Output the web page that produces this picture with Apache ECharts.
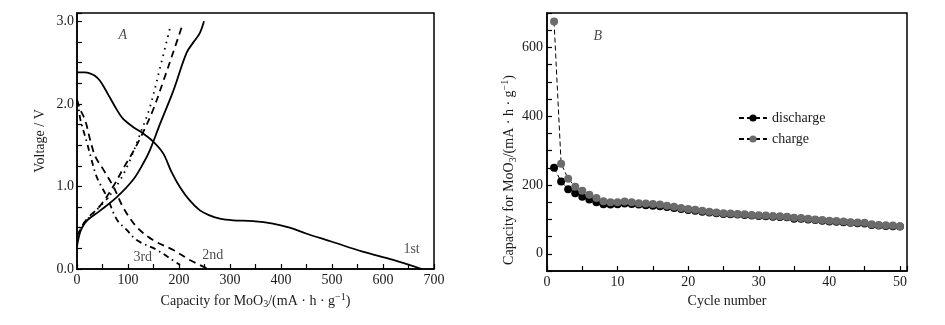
<!DOCTYPE html>
<html>
<head>
<meta charset="utf-8">
<script src="https://cdn.jsdelivr.net/npm/echarts@6/dist/echarts.min.js"></script>
<style>
html,body{margin:0;padding:0;background:#fff;}
#main{width:945px;height:325px;}
</style>
</head>
<body>
<div id="main"></div>
<script>
// ---- Panel A: voltage profiles [capacity mA·h/g, voltage V] ----
var discharge1 = [[0,2.38],[15,2.38],[25,2.37],[35,2.34],[45,2.28],[55,2.18],[65,2.07],[78,1.93],[90,1.82],[110,1.72],[130,1.64],[150,1.54],[169,1.40],[185,1.18],[202,0.99],[221,0.83],[241,0.71],[260,0.65],[280,0.61],[306,0.59],[345,0.58],[384,0.55],[417,0.50],[449,0.43],[500,0.33],[560,0.21],[620,0.11],[676,0.0]];
var charge1 = [[0,0.27],[4,0.40],[10,0.50],[20,0.59],[46,0.71],[78,0.87],[110,1.08],[130,1.28],[143,1.44],[163,1.76],[189,2.16],[215,2.62],[230,2.76],[241,2.86],[249,3.0]];
var discharge2 = [[0,2.05],[5,1.95],[16,1.80],[26,1.56],[36,1.36],[52,1.20],[72,0.99],[91,0.74],[117,0.51],[149,0.35],[189,0.23],[221,0.11],[254,0.01]];
var charge2 = [[0,0.40],[10,0.52],[20,0.61],[46,0.77],[71,1.00],[91,1.22],[110,1.42],[130,1.66],[150,1.94],[169,2.27],[189,2.63],[207,2.96]];
var discharge3 = [[0,2.05],[3,1.95],[7,1.80],[20,1.52],[26,1.38],[39,1.11],[59,0.87],[78,0.60],[98,0.47],[117,0.35],[157,0.23],[182,0.13],[202,0.05]];
var charge3 = [[0,0.42],[7,0.51],[33,0.68],[59,0.85],[85,1.08],[104,1.32],[124,1.64],[143,1.96],[163,2.44],[182,2.91]];
var cycleLabelsA = [['1st',656,0.24],['2nd',266,0.17],['3rd',129,0.145]];
var panelLabelA = ['A',90,2.83];

// ---- Panel B: cycling capacity ----
var cycles = [];
for (var i = 1; i <= 50; i++) cycles.push(i);
var chargeCap = [675,262,218,195,183,172,162,153,150,150,152,150,147,146,145,143,140,137,133,130,128,125,122,120,118,117,116,115,113,112,111,110,109,108,105,104,102,100,98,96,95,94,92,91,90,86,84,83,82,80];
var dischargeCap = [250,210,188,176,166,158,150,144,143,144,146,145,143,141,140,138,136,133,130,127,125,122,120,118,116,115,114,113,111,110,109,108,107,106,102,102,100,98,96,94,93,92,90,89,88,84,82,81,80,79];
var panelLabelB = ['B',7.2,633];

var FONT = 'Liberation Serif';
var TXT = '#1a1a1a';

function pairs(xs, ys){ return xs.map(function(x,k){ return [x, ys[k]]; }); }

var richName = {
  sub: {fontFamily: FONT, fontSize: 10, color: TXT, padding: [7,0,0,0]},
  sup: {fontFamily: FONT, fontSize: 10, color: TXT, padding: [0,0,8,0]}
};
var capName = 'Capacity for MoO{sub|3}/(mA · h · g{sup|−1})';

function curve(name, data, type, w){
  return {
    name: name, type: 'line', xAxisIndex: 0, yAxisIndex: 0,
    data: data, smooth: 0.35, symbol: 'none',
    lineStyle: {color: '#000', width: w || 1.8, type: type},
    silent: true
  };
}

var chart = echarts.init(document.getElementById('main'), null, {renderer: 'canvas'});
var option = {
  animation: false,
  backgroundColor: '#fff',
  grid: [
    {left: 77, top: 13, width: 357, height: 256, show: true, borderColor: '#000', borderWidth: 1.5, backgroundColor: 'transparent'},
    {left: 547, top: 13, width: 360, height: 258, show: true, borderColor: '#000', borderWidth: 1.5, backgroundColor: 'transparent'}
  ],
  xAxis: [
    {
      gridIndex: 0, type: 'value', min: 0, max: 700, interval: 50,
      name: capName, nameLocation: 'middle', nameGap: 16,
      nameTextStyle: {fontFamily: FONT, fontSize: 14, color: TXT, rich: richName},
      axisLine: {show: true, onZero: false, lineStyle: {color: '#000', width: 1.5}},
      axisTick: {show: true, inside: true, length: 5, lineStyle: {color: '#000', width: 1.2}},
      axisLabel: {fontFamily: FONT, fontSize: 14, color: TXT, margin: 4,
        formatter: function(v){ return (v % 100 === 0) ? String(v) : ''; }},
      splitLine: {show: false}
    },
    {
      gridIndex: 1, type: 'value', min: 0, max: 51, interval: 5,
      name: 'Cycle number', nameLocation: 'middle', nameGap: 20,
      nameTextStyle: {fontFamily: FONT, fontSize: 14, color: TXT},
      axisLine: {show: true, onZero: false, lineStyle: {color: '#000', width: 1.5}},
      axisTick: {show: true, inside: true, length: 5, lineStyle: {color: '#000', width: 1.2}},
      axisLabel: {fontFamily: FONT, fontSize: 14, color: TXT, margin: 4,
        formatter: function(v){ return (v % 10 === 0 && v <= 50) ? String(v) : ''; }},
      splitLine: {show: false}
    }
  ],
  yAxis: [
    {
      gridIndex: 0, type: 'value', min: 0, max: 3.1, interval: 0.25,
      name: 'Voltage / V', nameLocation: 'middle', nameGap: 30,
      nameTextStyle: {fontFamily: FONT, fontSize: 14, color: TXT},
      axisLine: {show: true, onZero: false, lineStyle: {color: '#000', width: 1.5}},
      axisTick: {show: true, inside: true, length: 5, lineStyle: {color: '#000', width: 1.2}},
      axisLabel: {fontFamily: FONT, fontSize: 14, color: TXT, margin: 3,
        formatter: function(v){ return (Math.abs(v - Math.round(v)) < 1e-6 && v <= 3) ? v.toFixed(1) : ''; }},
      splitLine: {show: false}
    },
    {
      gridIndex: 1, type: 'value', min: -50, max: 700, interval: 50,
      name: capName, nameLocation: 'middle', nameGap: 28,
      nameTextStyle: {fontFamily: FONT, fontSize: 14, color: TXT, rich: richName, padding: [0, 56, 0, 0]},
      axisLine: {show: true, onZero: false, lineStyle: {color: '#000', width: 1.5}},
      axisTick: {show: true, inside: true, length: 5, lineStyle: {color: '#000', width: 1.2}},
      axisLabel: {fontFamily: FONT, fontSize: 14, color: TXT, margin: 4,
        formatter: function(v){ return (v >= 0 && v < 700 && v % 200 === 0) ? String(v) : ''; }},
      splitLine: {show: false}
    }
  ],
  legend: {
    data: ['discharge', 'charge'],
    orient: 'vertical', left: 733, top: 106,
    itemWidth: 28, itemHeight: 9, itemGap: 7,
    textStyle: {fontFamily: FONT, fontSize: 14, color: TXT}
  },
  series: [
    curve('d1', discharge1, 'solid'),
    curve('c1', charge1, 'solid'),
    curve('d2', discharge2, [7,5]),
    curve('c2', charge2, [7,5]),
    curve('d3', discharge3, [6,4,1.5,4]),
    curve('c3', charge3, [1.5,5]),
    {
      name: 'labelsA', type: 'scatter', xAxisIndex: 0, yAxisIndex: 0, symbolSize: 0, silent: true,
      data: cycleLabelsA.map(function(r){ return {name: r[0], value: [r[1], r[2]]}; }),
      label: {show: true, position: 'inside', formatter: '{b}', fontFamily: FONT, fontSize: 14, color: TXT}
    },
    {
      name: 'panelA', type: 'scatter', xAxisIndex: 0, yAxisIndex: 0, symbolSize: 0, silent: true,
      data: [{name: panelLabelA[0], value: [panelLabelA[1], panelLabelA[2]]}],
      label: {show: true, position: 'inside', formatter: '{b}', fontFamily: FONT, fontSize: 14, fontStyle: 'italic', color: TXT}
    },
    {
      name: 'panelB', type: 'scatter', xAxisIndex: 1, yAxisIndex: 1, symbolSize: 0, silent: true,
      data: [{name: panelLabelB[0], value: [panelLabelB[1], panelLabelB[2]]}],
      label: {show: true, position: 'inside', formatter: '{b}', fontFamily: FONT, fontSize: 14, fontStyle: 'italic', color: TXT}
    },
    {
      name: 'discharge', type: 'line', xAxisIndex: 1, yAxisIndex: 1,
      data: pairs(cycles, dischargeCap),
      symbol: 'circle', symbolSize: 8, showAllSymbol: true,
      itemStyle: {color: '#000'},
      lineStyle: {color: '#000', width: 1, type: [5,3]}
    },
    {
      name: 'charge', type: 'line', xAxisIndex: 1, yAxisIndex: 1,
      data: pairs(cycles, chargeCap),
      symbol: 'circle', symbolSize: 8, showAllSymbol: true,
      itemStyle: {color: '#6b6b6b'},
      lineStyle: {color: '#000', width: 1, type: [5,3]}
    }
  ]
};
chart.setOption(option);
</script>
</body>
</html>
